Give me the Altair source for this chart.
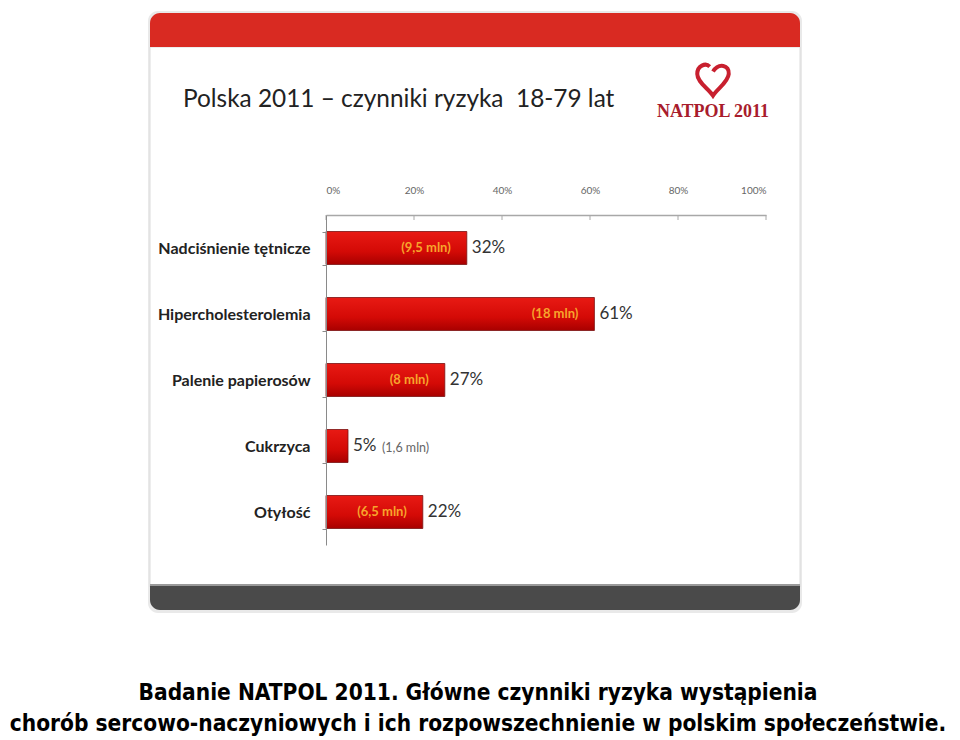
import altair as alt
import pandas as pd

# ---- data ----
categories = ["Nadciśnienie tętnicze", "Hipercholesterolemia", "Palenie papierosów", "Cukrzyca", "Otyłość"]
values = [32, 61, 27, 5, 22]
mln_labels = ["(9,5 mln)", "(18 mln)", "(8 mln)", "(1,6 mln)", "(6,5 mln)"]
mln_inside = [True, True, True, False, True]
tick_values = [0, 20, 40, 60, 80, 100]

title_text = "Polska 2011 – czynniki ryzyka \u00a018-79 lat"
logo_text = "NATPOL 2011"
caption_lines = [
    "Badanie NATPOL 2011. Główne czynniki ryzyka wystąpienia",
    "chorób sercowo-naczyniowych i ich rozpowszechnienie w polskim społeczeństwie.",
]

df = pd.DataFrame({"cat": categories, "val": values, "mln": mln_labels, "inside": mln_inside})
df["pct"] = df["val"].astype(str) + "%"
one = pd.DataFrame({"k": [0]})
tick_df = pd.DataFrame({"val": tick_values})

W, H = 440, 330
FONT = "Lato"
CAP_FONT = "'Liberation Sans Narrow', 'Arial Narrow', 'DejaVu Sans Condensed', 'Liberation Sans', Arial, sans-serif"


def box(x, x2, y, y2, **kw):
    return alt.Chart(one).mark_rect(**kw).encode(
        x=alt.value(x), x2=alt.value(x2), y=alt.value(y), y2=alt.value(y2)
    )


def label(text, x, y, **kw):
    return alt.Chart(pd.DataFrame({"s": [text]})).mark_text(**kw).encode(
        x=alt.value(x), y=alt.value(y), text="s:N"
    )


# slide decoration (plot-area pixel coordinates)
shadow = box(-178, 476, -204, 398, color="#e9e9e9", cornerRadius=10)
panel = box(-176, 474, -168, 372, color="#ffffff", stroke="#dcdcdc", strokeWidth=1)
topbar = box(-176, 474, -202, -168, color="#d92a22",
             cornerRadiusTopLeft=10, cornerRadiusTopRight=10)
botline = box(-176, 474, 369, 372, color="#9a9a9a")
botbar = box(-176, 474, 371, 395, color="#4a4a4a",
             cornerRadiusBottomLeft=10, cornerRadiusBottomRight=10)

title = label(title_text, -143, -115, align="left", baseline="middle",
              font=FONT, fontSize=24.4, color="#222222")

heart_path = ("M 0 -0.45 C 0.35 -1.0 1.0 -0.85 0.95 -0.3 C 0.9 0.2 0.3 0.55 0 1 "
              "C -0.3 0.55 -0.95 0.2 -0.95 -0.3 C -0.95 -0.8 -0.45 -1.0 -0.2 -0.75")
heart = alt.Chart(one).mark_point(
    shape=heart_path, filled=False, stroke="#c8202f", strokeWidth=4, size=1100, opacity=1
).encode(x=alt.value(387), y=alt.value(-136))
logo = label(logo_text, 387, -103, align="center", baseline="middle",
             font="Liberation Serif", fontWeight="bold", fontSize=18, color="#a81c2c")

x_enc = alt.X(
    "val:Q", scale=alt.Scale(domain=[0, 100]),
    axis=alt.Axis(orient="top", values=tick_values, labelExpr="datum.value + '%'",
                  ticks=False, grid=False, domainColor="#a8a8a8", domainWidth=1.5,
                  labelFontSize=10, labelColor="#666666", labelFont=FONT,
                  labelPadding=20, title=None, zindex=2),
)
y_enc = alt.Y(
    "cat:N", sort=categories,
    scale=alt.Scale(paddingInner=0.5, paddingOuter=0.25),
    axis=alt.Axis(title=None, tickBand="extent", tickSize=4, tickColor="#8a8a8a",
                  domainColor="#8a8a8a", labelFontSize=16, labelFont=FONT,
                  labelFontWeight="bold", labelColor="#222222", labelPadding=12,
                  zindex=2),
)

bar_grad = alt.Gradient(
    gradient="linear", x1=0, y1=0, x2=0, y2=1,
    stops=[alt.GradientStop(color="#e81a14", offset=0),
           alt.GradientStop(color="#d40a06", offset=0.6),
           alt.GradientStop(color="#a80000", offset=1)],
)

bars = alt.Chart(df).mark_bar(color=bar_grad, stroke="#7a1010", strokeWidth=0.8).encode(
    x=x_enc, y=y_enc,
)

xticks = alt.Chart(tick_df).mark_rule(color="#a8a8a8").encode(
    x=x_enc, y=alt.value(0), y2=alt.value(5)
)

pct = alt.Chart(df).mark_text(align="left", baseline="middle", dx=5, font=FONT,
                              fontSize=17, color="#333333").encode(
    x=x_enc, y=y_enc, text="pct:N"
)

mln_in = alt.Chart(df).transform_filter("datum.inside").mark_text(
    align="right", baseline="middle", dx=-16, font=FONT, fontWeight="bold",
    fontSize=13, color="#f7a52c").encode(
    x=x_enc, y=y_enc, text="mln:N"
)

mln_out = alt.Chart(df).transform_filter("!datum.inside").mark_text(
    align="left", baseline="middle", dx=34, dy=2, font=FONT,
    fontSize=12.5, color="#666666").encode(
    x=x_enc, y=y_enc, text="mln:N"
)

cap1 = label(caption_lines[0], 152, 478, align="center", baseline="middle",
             font=CAP_FONT, fontWeight="bold", fontSize=22.5, color="#000000")
cap2 = label(caption_lines[1], 152, 509, align="center", baseline="middle",
             font=CAP_FONT, fontWeight="bold", fontSize=22.5, color="#000000")

chart = alt.layer(
    shadow, panel, topbar, botline, botbar, title, heart, logo,
    xticks, bars, pct, mln_in, mln_out, cap1, cap2,
).properties(
    width=W, height=H,
    autosize=alt.AutoSizeParams(type="none"),
    padding={"left": 318, "top": 207, "right": 186, "bottom": 195},
).configure_view(stroke=None).configure(background="#ffffff")

chart.save("out.html", embed_options={"renderer": "svg", "actions": False})
